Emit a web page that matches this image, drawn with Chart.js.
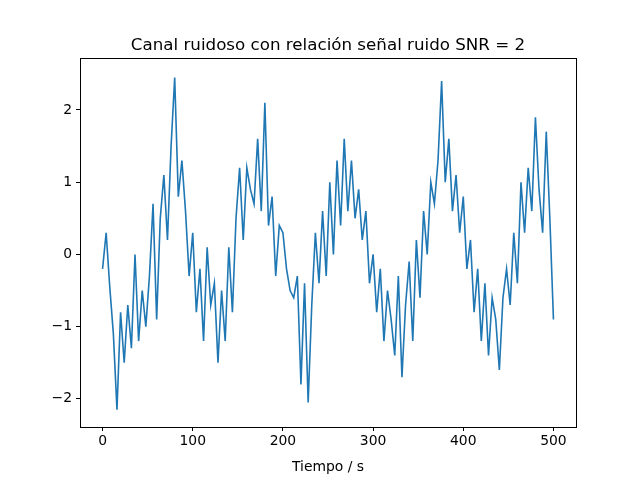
<!DOCTYPE html>
<html>
<head>
<meta charset="utf-8">
<script src="https://cdn.jsdelivr.net/npm/chart.js@4/dist/chart.umd.min.js"></script>
<style>
  html, body { margin: 0; padding: 0; background: #fff; }
</style>
</head>
<body>
<canvas id="chart" width="640" height="480"></canvas>
<script>
const tiempo = [];
for (let t = 0; t <= 500; t += 4) tiempo.push(t);

const senal = [
  -0.2, 0.3, -0.45, -1.1, -2.15, -0.8, -1.5, -0.7, -1.3, 0.0,
  -1.2, -0.5, -1.0, -0.3, 0.7, -0.9, 0.5, 1.1, 0.2, 1.5,
  2.45, 0.8, 1.3, 0.6, -0.3, 0.3, -0.8, -0.2, -1.2, 0.1,
  -0.7, -0.4, -1.5, -0.5, -1.2, 0.1, -0.8, 0.5, 1.2, 0.2,
  1.2, 0.9, 0.7, 1.6, 0.6, 2.1, 0.4, 0.8, -0.3, 0.4,
  0.3, -0.2, -0.5, -0.6, -0.3, -1.8, -0.4, -2.05, -0.7, 0.3,
  -0.4, 0.6, -0.3, 1.0, 0.0, 1.3, 0.4, 1.6, 0.6, 1.3,
  0.5, 0.9, 0.2, 0.6, -0.4, 0.0, -0.8, -0.2, -1.2, -0.5,
  -0.9, -1.4, -0.3, -1.7, -0.7, -0.1, -1.2, 0.2, -0.6, 0.6,
  0.0, 1.0, 0.7, 1.3, 2.4, 1.0, 1.6, 0.6, 1.1, 0.3,
  0.8, -0.2, 0.2, -0.8, -0.2, -1.2, -0.4, -1.4, -0.6, -0.9,
  -1.6, -0.6, -0.2, -0.7, 0.3, -0.4, 1.0, 0.3, 1.2, 0.6,
  1.9, 0.9, 0.3, 1.7, 0.5, -0.9
];

const xTicks = [0, 100, 200, 300, 400, 500];
const yTicks = [-2, -1, 0, 1, 2];

// ===================== Chart =====================
(function () {
  const canvas = document.getElementById('chart');

  // title + full box around the plot area, like matplotlib
  const frame = {
    id: 'frame',
    afterDraw: function (chart) {
      const a = chart.chartArea;
      const ctx = chart.ctx;
      ctx.save();
      ctx.strokeStyle = '#000';
      ctx.lineWidth = 1;
      ctx.strokeRect(a.left + 0.5, a.top + 0.5, a.right - a.left, a.bottom - a.top);
      ctx.fillStyle = '#000';
      ctx.font = '16.7px "DejaVu Sans"';
      ctx.textAlign = 'center';
      ctx.textBaseline = 'alphabetic';
      ctx.fillText('Canal ruidoso con relación señal ruido SNR = 2', (a.left + a.right) / 2, a.top - 8);
      ctx.restore();
    }
  };

  const tickFont = { family: 'DejaVu Sans', size: 13.9 };

  new Chart(canvas, {
    type: 'line',
    data: {
      datasets: [{
        data: tiempo.map(function (t, i) { return { x: t, y: senal[i] }; }),
        borderColor: '#1f77b4',
        borderWidth: 1.6,
        pointRadius: 0,
        tension: 0,
        fill: false
      }]
    },
    options: {
      responsive: false,
      animation: false,
      layout: { padding: { top: 58, right: 64, left: 0, bottom: 0 } },
      plugins: { legend: { display: false }, tooltip: { enabled: false } },
      scales: {
        x: {
          type: 'linear',
          min: -25,
          max: 525,
          afterBuildTicks: function (s) { s.ticks = xTicks.map(function (v) { return { value: v }; }); },
          afterFit: function (s) { s.height = 53; },
          ticks: { color: '#000', font: tickFont, padding: 2, maxRotation: 0 },
          grid: { drawOnChartArea: false, tickLength: 4, color: '#000' },
          border: { color: '#000' },
          title: { display: true, text: 'Tiempo / s', color: '#000', font: tickFont, padding: { top: 0 } }
        },
        y: {
          min: -2.39,
          max: 2.72,
          afterBuildTicks: function (s) { s.ticks = yTicks.map(function (v) { return { value: v }; }); },
          afterFit: function (s) { s.width = 80; },
          ticks: {
            color: '#000', font: tickFont, padding: 4,
            callback: function (v) { return String(v).replace('-', '\u2212'); }
          },
          grid: { drawOnChartArea: false, tickLength: 4, color: '#000' },
          border: { color: '#000' }
        }
      }
    },
    plugins: [frame]
  });
})();
</script>
</body>
</html>
